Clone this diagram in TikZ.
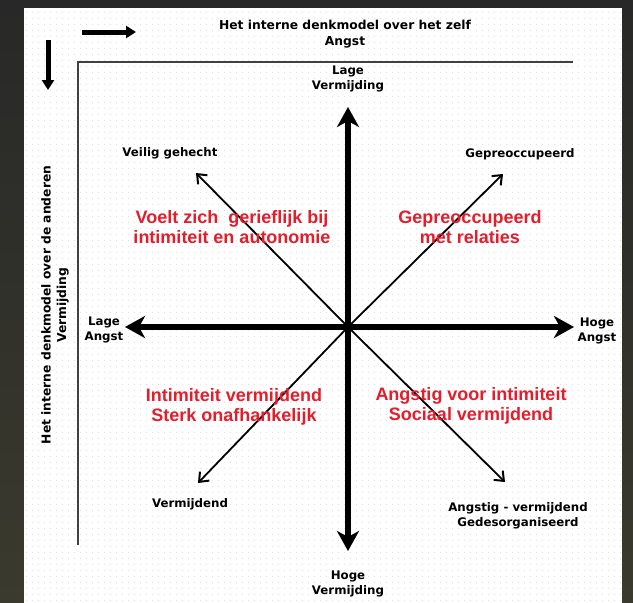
\documentclass[tikz,border=0pt]{standalone}
\usepackage{fontspec}
\setmainfont{Liberation Sans}
\newfontfamily\labelfont{DejaVu Sans}
\usetikzlibrary{arrows.meta,patterns.meta,positioning}

\definecolor{slidetop}{RGB}{40,40,40}
\definecolor{slidebottom}{RGB}{58,58,46}
\definecolor{quadred}{RGB}{226,30,45}

\tikzdeclarepattern{
  name=paperdots,
  type=uncolored,
  bottom left={(0pt,0pt)},
  top right={(6pt,6pt)},
  tile size={(6pt,6pt)},
  code={\fill (3pt,3pt) circle (0.55pt);}
}

\begin{document}
\begin{tikzpicture}
[x=1pt,y=-1pt,>={Straight Barb[length=8pt,width=13pt,line width=2pt]},
 axis/.style = {line width=6pt, -{Stealth[length=20pt,width=22pt,inset=6pt]}},
 diag/.style = {line width=1.8pt, ->},
 pole/.style = {font=\labelfont\bfseries\fontsize{11.8}{14.5}\selectfont, align=center, inner sep=1pt},
 head/.style = {font=\labelfont\bfseries\fontsize{12.3}{15.5}\selectfont, align=center, inner sep=1pt},
 feel/.style = {text=quadred, font=\bfseries\fontsize{18}{19.5}\selectfont, align=center, inner sep=1pt},]

\shade[top color=slidetop, bottom color=slidebottom] (0,0) rectangle (633,603);
\fill[white] (24,8) rectangle (622,603);
\fill[pattern=paperdots, pattern color=black!16] (24,8) rectangle (622,603);

\coordinate (TR) at (573,62);
\coordinate (TL) at (78,62);
\coordinate (BL) at (78,545);
\draw[line width=1.3pt, black!75] (TR)--(TL)--(BL);

\coordinate (selfA) at (82,32);
\coordinate (selfB) at (136,32);
\coordinate (otherA) at (48,40);
\coordinate (otherB) at (48,90);
\draw[line width=5pt, -{Triangle[length=10pt,width=12pt]}] (selfA)--(selfB);
\draw[line width=5pt, -{Triangle[length=10pt,width=12pt]}] (otherA)--(otherB);

\node (self) at (345,34)[head] {Het interne denkmodel over het zelf\\Angst};
\node (other) at (55,305)[head, rotate=90] {Het interne denkmodel over de anderen\\Vermijding};

\coordinate (O) at (348,327);
\coordinate (N) at (348,107);
\coordinate (S) at (348,551);
\coordinate (W) at (125,327);
\coordinate (E) at (574,327);
\coordinate (NW) at (196,173);
\coordinate (NE) at (503,174);
\coordinate (SW) at (198,483);
\coordinate (SE) at (505,482);

\draw[diag] (O)--(NW);
\draw[diag] (O)--(NE);
\draw[diag] (O)--(SW);
\draw[diag] (O)--(SE);
\draw[axis] (O)--(N);
\draw[axis] (O)--(S);
\draw[axis] (O)--(W);
\draw[axis] (O)--(E);

\node (lowav) at (348,79)[pole] {Lage\\Vermijding};
\node (highav) at (348,584)[pole] {Hoge\\Vermijding};
\node (lowanx) at (104,330)[pole] {Lage\\Angst};
\node (highanx) at (597,331)[pole] {Hoge\\Angst};

\node (secure) at (170,153)[pole] {Veilig gehecht};
\node (preocc) at (520,154)[pole] {Gepreoccupeerd};
\node (avoid) at (190,504)[pole] {Vermijdend};
\node (disorg) at (518,516)[pole] {Angstig - vermijdend\\Gedesorganiseerd};

\node (comfort) at (232,227)[feel] {Voelt zich\ \ gerieflijk bij\\intimiteit en autonomie};
\node (relations) at (470,227)[feel] {Gepreoccupeerd\\met relaties};
\node (independent) at (234,407)[feel] {Intimiteit vermijdend\\Sterk onafhankelijk};
\node (social) at (471,406)[feel] {Angstig voor intimiteit\\Sociaal vermijdend};

\end{tikzpicture}
\end{document}
